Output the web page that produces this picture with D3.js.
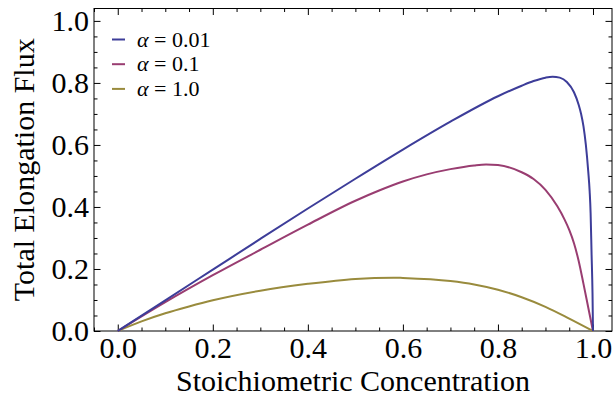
<!doctype html>
<html>
<head>
	<script src="https://d3js.org/d3.v7.min.js"></script>
	<style>
		body { margin: 0; background: white; }
		text { font-family: "Liberation Serif", "DejaVu Serif", serif; fill: #000; }
	</style>
</head>
<body>
	<div id="my_dataviz"></div>
	<script>

// data
var xs1 = [0, 0.1, 0.2, 0.3, 0.4, 0.5, 0.6, 0.7, 0.8, 0.85, 0.875, 0.9, 0.915, 0.93, 0.945, 0.96, 0.97, 0.975, 0.98, 0.985, 0.99, 0.993, 0.995, 0.997, 0.999, 1.0];
var ys1 = [0, 0.099, 0.198, 0.297, 0.395, 0.491, 0.585, 0.675, 0.757, 0.791, 0.806, 0.817, 0.82, 0.817, 0.803, 0.77, 0.729, 0.7, 0.66, 0.6, 0.515, 0.45, 0.38, 0.25, 0.12, 0];

var xs2 = [0, 0.1, 0.2, 0.3, 0.4, 0.5, 0.55, 0.6, 0.65, 0.7, 0.75, 0.775, 0.8, 0.85, 0.875, 0.9, 0.925, 0.94, 0.95, 0.96, 0.97, 0.98, 0.99, 1.0];
var ys2 = [0, 0.093, 0.18, 0.262, 0.343, 0.42, 0.453, 0.482, 0.505, 0.522, 0.534, 0.537, 0.535, 0.512, 0.49, 0.455, 0.402, 0.36, 0.326, 0.283, 0.225, 0.152, 0.076, 0];

var xs3 = [0, 0.05, 0.1, 0.15, 0.2, 0.3, 0.4, 0.5, 0.58, 0.6, 0.7, 0.75, 0.8, 0.85, 0.9, 0.95, 1.0];
var ys3 = [0, 0.031, 0.057, 0.079, 0.099, 0.13, 0.152, 0.168, 0.172, 0.171, 0.161, 0.15, 0.133, 0.109, 0.078, 0.04, 0];

var seriesValues = ["0.01", "0.1", "1.0"];
var colors = ["#3d3d99", "#993d71", "#998b3d"];
var majorTicks = [0, 0.2, 0.4, 0.6, 0.8, 1.0];

// set the dimensions and margins of the graph
var W = 614, H = 398;
var margin = {top: 8.5, right: 2, bottom: 67, left: 94};
var width = W - margin.left - margin.right,
    height = H - margin.top - margin.bottom;

var svg = d3.select("#my_dataviz")
  .append("svg")
    .attr("width", W)
    .attr("height", H)
    .style("display", "block")
  .append("g")
    .attr("transform", "translate(" + margin.left + "," + margin.top + ")");

var x = d3.scaleLinear().domain([-0.05, 1.04]).range([0, width]);
var y = d3.scaleLinear().domain([0, 1.04]).range([height, 0]);

var minorX = d3.range(-0.05, 1.041, 0.05).map(function(d) { return +d.toFixed(2); })
  .filter(function(d) { return majorTicks.indexOf(d) < 0; });
var minorY = d3.range(0, 1.041, 0.05).map(function(d) { return +d.toFixed(2); })
  .filter(function(d) { return majorTicks.indexOf(d) < 0; });

function styleAxis(g) {
  g.select(".domain").remove();
  g.selectAll(".tick line").attr("stroke", "#000").attr("stroke-width", 1);
  g.selectAll("text").style("font-size", "30px").attr("fill", "#000");
}

// bottom
svg.append("g")
  .attr("transform", "translate(0," + height + ")")
  .call(d3.axisBottom(x).tickValues(majorTicks).tickFormat(d3.format(".1f"))
    .tickSizeInner(-6.5).tickSizeOuter(0).tickPadding(6))
  .call(styleAxis);
svg.append("g")
  .attr("transform", "translate(0," + height + ")")
  .call(d3.axisBottom(x).tickValues(minorX).tickFormat("").tickSizeInner(-3.5).tickSizeOuter(0))
  .call(styleAxis);
// top
svg.append("g")
  .call(d3.axisTop(x).tickValues(majorTicks).tickFormat("").tickSizeInner(-6.5).tickSizeOuter(0))
  .call(styleAxis);
svg.append("g")
  .call(d3.axisTop(x).tickValues(minorX).tickFormat("").tickSizeInner(-3.5).tickSizeOuter(0))
  .call(styleAxis);
// left
svg.append("g")
  .call(d3.axisLeft(y).tickValues(majorTicks).tickFormat(d3.format(".1f"))
    .tickSizeInner(-6.5).tickSizeOuter(0).tickPadding(5))
  .call(styleAxis);
svg.append("g")
  .call(d3.axisLeft(y).tickValues(minorY).tickFormat("").tickSizeInner(-3.5).tickSizeOuter(0))
  .call(styleAxis);
// right
svg.append("g")
  .attr("transform", "translate(" + width + ",0)")
  .call(d3.axisRight(y).tickValues(majorTicks).tickFormat("").tickSizeInner(-6.5).tickSizeOuter(0))
  .call(styleAxis);
svg.append("g")
  .attr("transform", "translate(" + width + ",0)")
  .call(d3.axisRight(y).tickValues(minorY).tickFormat("").tickSizeInner(-3.5).tickSizeOuter(0))
  .call(styleAxis);

// frame
svg.append("rect")
  .attr("x", 0).attr("y", 0)
  .attr("width", width).attr("height", height)
  .attr("fill", "none").attr("stroke", "#000").attr("stroke-width", 1);

// curves
var allX = [xs1, xs2, xs3], allY = [ys1, ys2, ys3];
var line = d3.line()
  .curve(d3.curveMonotoneX)
  .x(function(d) { return x(d[0]); })
  .y(function(d) { return y(d[1]); });

for (var i = 2; i >= 0; i--) {
  var pts = allX[i].map(function(v, j) { return [v, allY[i][j]]; });
  svg.append("path")
    .datum(pts)
    .attr("fill", "none")
    .attr("stroke", colors[i])
    .attr("stroke-width", 2)
    .attr("stroke-linejoin", "round")
    .attr("d", line);
}

// axis titles
svg.append("text")
  .attr("x", width / 2).attr("y", height + 60)
  .attr("text-anchor", "middle")
  .style("font-size", "30px")
  .text("Stoichiometric Concentration");

svg.append("text")
  .attr("transform", "translate(" + (33.5 - margin.left) + "," + (height / 2) + ") rotate(-90)")
  .attr("text-anchor", "middle")
  .style("font-size", "30px")
  .text("Total Elongation Flux");

// Handmade legend
var legend = svg.append("g").attr("transform", "translate(18,31)");
seriesValues.forEach(function(v, i) {
  var row = legend.append("g").attr("transform", "translate(0," + (i * 24.7) + ")");
  row.append("line")
    .attr("x1", 0).attr("x2", 13).attr("y1", 0).attr("y2", 0)
    .attr("stroke", colors[i]).attr("stroke-width", 2);
  var t = row.append("text")
    .attr("x", 25).attr("y", 0).attr("dy", "0.33em")
    .style("font-size", "22px");
  t.append("tspan").style("font-style", "italic").text("α");
  t.append("tspan").text(" = " + v);
});
	</script>
</body>
</html>
